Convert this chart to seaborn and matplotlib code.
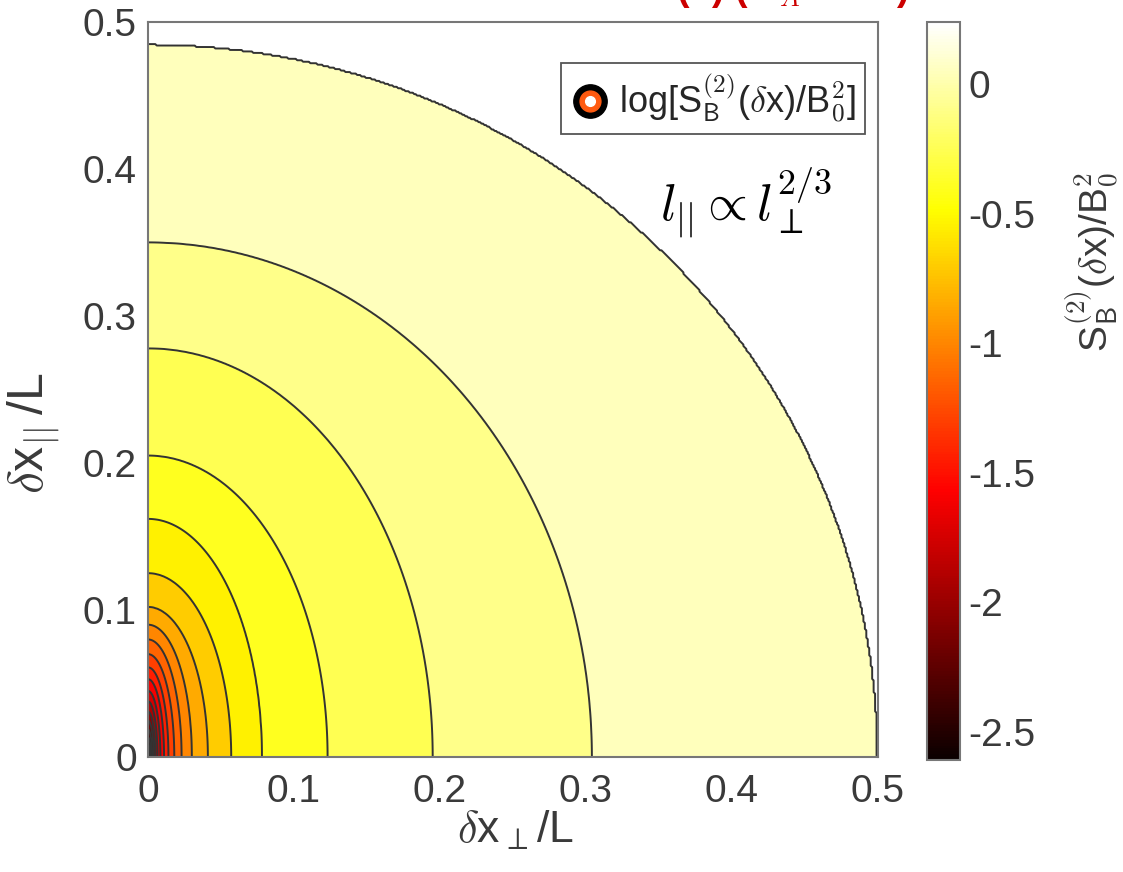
import numpy as np
import matplotlib
matplotlib.use("Agg")
import matplotlib.pyplot as plt
import seaborn as sns
from matplotlib.lines import Line2D
from matplotlib.legend_handler import HandlerTuple
from matplotlib.colors import Normalize
from matplotlib.cm import ScalarMappable

# ---- data -----------------------------------------------------------------
# contour levels of log[S_B^(2)(dx)/B0^2], innermost -> outermost
levels = [-2.5, -2.35, -2.2, -2.05, -1.9, -1.75, -1.6, -1.45, -1.3, -1.15,
          -1.0, -0.85, -0.7, -0.55, -0.4, -0.25, -0.1, 0.05, 0.2]
# where each contour meets the dx_perp axis (bottom) and the dx_par axis (left)
perp_cross = [0.0013, 0.002, 0.0028, 0.0038, 0.005, 0.0065, 0.0085, 0.011,
              0.014, 0.018, 0.023, 0.030, 0.041, 0.057, 0.078, 0.123, 0.195,
              0.304, 0.500]
par_cross = [0.009, 0.014, 0.019, 0.025, 0.031, 0.038, 0.045, 0.053, 0.061,
             0.070, 0.080, 0.090, 0.102, 0.125, 0.162, 0.205, 0.278, 0.350,
             0.485]
field_min, field_max = -2.61, 0.24
axis_ticks = [0, 0.1, 0.2, 0.3, 0.4, 0.5]
axis_ticklabels = ["0", "0.1", "0.2", "0.3", "0.4", "0.5"]
cbar_ticks = [-2.5, -2, -1.5, -1, -0.5, 0]
cbar_ticklabels = ["-2.5", "-2", "-1.5", "-1", "-0.5", "0"]

# ---- style -----------------------------------------------------------------
sns.set_theme(style="white")
plt.rcParams['font.family'] = ['Liberation Sans', 'DejaVu Sans']
plt.rcParams['mathtext.fontset'] = 'cm'
plt.rcParams['axes.unicode_minus'] = False

W, H = 1123, 872
fig = plt.figure(figsize=(W / 100, H / 100), dpi=100)
ax = fig.add_axes([148 / W, 115 / H, 730 / W, 735 / H])
cax = fig.add_axes([927 / W, 112 / H, 33 / W, 738 / H])

# ---- build the field whose contours pass through the read crossings --------
n = 500
xs = np.linspace(0, 0.5, n)
ys = np.linspace(0, 0.5, n)
X, Y = np.meshgrid(xs, ys)
a = np.array(perp_cross)[:, None, None]
b = np.array(par_cross)[:, None, None]
r = np.sqrt((X / a) ** 2 + (Y / b) ** 2)
g = -np.log(np.maximum(r, 1e-12))
L = np.array(levels)
N = len(L)
k = (g < 0).sum(axis=0)
Z = np.empty(X.shape)
Z[k == 0] = field_min + 0.01
Z[k == N] = field_max - 0.01
mid = (k > 0) & (k < N)
ii, jj = np.nonzero(mid)
km = k[mid]
g0 = g[km - 1, ii, jj]
g1 = g[km, ii, jj]
frac = (0 - g0) / (g1 - g0)
Z[mid] = L[km - 1] + frac * (L[km] - L[km - 1])

cmap = plt.get_cmap('hot')
norm = Normalize(vmin=field_min, vmax=field_max)
lev_ext = [field_min] + levels + [field_max]
fill_colors = [cmap(norm(v)) for v in lev_ext[:-1]]
fill_colors[-1] = cmap(1.0)
ax.contourf(X, Y, Z, levels=lev_ext, colors=fill_colors)
ax.contour(X, Y, Z, levels=levels, colors='#333333', linewidths=1.4,
           linestyles='solid', negative_linestyles='solid')

ax.set_xlim(0, 0.5)
ax.set_ylim(0, 0.5)
ax.set_xticks(axis_ticks, axis_ticklabels)
ax.set_yticks(axis_ticks, axis_ticklabels)
ax.tick_params(direction='in', top=True, right=True, length=9, width=1.2,
               color='#555555', labelsize=28, labelcolor='#3a3a3a')
ax.tick_params(axis='x', pad=12)
ax.tick_params(axis='y', pad=8)
for s in ax.spines.values():
    s.set_color('#777777')
    s.set_linewidth(1.5)
ax.set_xlabel(r"$\delta$x$_{\perp}$/L", fontsize=32, color='#3a3a3a')
ax.set_ylabel(r"$\delta$x$_{||}\,$/L", fontsize=36, color='#3a3a3a')
ax.xaxis.set_label_coords(0.503, -0.07)
ax.yaxis.set_label_coords(-0.118, 0.44)

# legend with concentric ring marker
h1 = Line2D([], [], marker='o', ls='', ms=24, mfc='black', mec='black')
h2 = Line2D([], [], marker='o', ls='', ms=15, mfc='#FF5A10', mec='#FF5A10')
h3 = Line2D([], [], marker='o', ls='', ms=7, mfc='white', mec='white')
leg = ax.legend([(h1, h2, h3)],
                [r"log[S$_{\mathsf{B}}^{\mathsf{(2)}}$($\delta$x)/B$_{\mathsf{0}}^{\mathsf{2}}$]"],
                handler_map={tuple: HandlerTuple(ndivide=1, pad=0)},
                loc='upper right', bbox_to_anchor=(0.982, 0.944),
                borderaxespad=0, fontsize=26, fancybox=False, framealpha=1,
                handlelength=1.1, handletextpad=0.25, borderpad=0.25)
leg.get_frame().set_edgecolor('#555555')
leg.get_frame().set_linewidth(1.3)

ax.text(0.41, 0.377, r"$l_{||} \propto l_{\perp}^{2/3}$", fontsize=37,
        ha='center', va='center', color='black')

# colorbar
cb = fig.colorbar(ScalarMappable(norm=norm, cmap=cmap), cax=cax)
cb.set_ticks(cbar_ticks, labels=cbar_ticklabels)
cax.tick_params(direction='in', right=True, length=8, width=1.2,
                color='#555555', labelsize=28, labelcolor='#3a3a3a', pad=6)
cb.outline.set_edgecolor('#777777')
cb.outline.set_linewidth(1.5)
fig.text(1092 / W, 1 - 262 / H,
         r"S$_{\mathsf{B}}^{\mathsf{(2)}}$($\delta$x)/B$_{\mathsf{0}}^{\mathsf{2}}$",
         rotation=90, fontsize=28, ha='center', va='center', color='#3a3a3a')

# red title, mostly cut off at the top edge (as in the reference)
fig.text(793 / W, 1.0, "(b) (M$_A$ = 0.5)", color='#CC0000', fontsize=27,
         weight='bold', ha='center', va='baseline')

fig.savefig("out.png", dpi=100)
